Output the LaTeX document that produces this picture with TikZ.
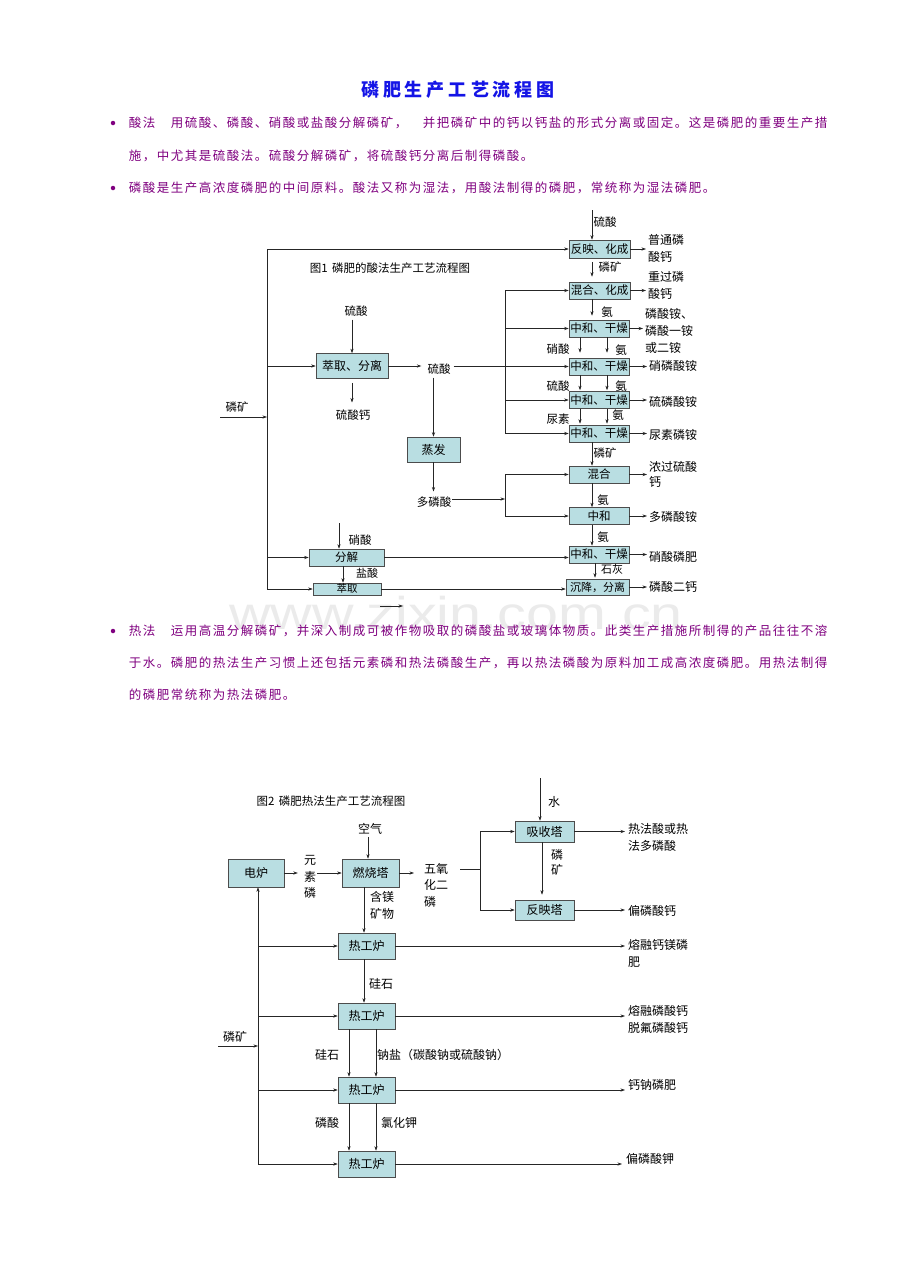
\documentclass[tikz,border=0pt]{standalone}
\usepackage{fontspec}
\usepackage{graphicx}
\setmainfont{Noto Sans CJK SC}
\newfontfamily\wmfont{Liberation Sans}
\usetikzlibrary{arrows.meta,calc}
\definecolor{boxc}{RGB}{185,222,226}
\definecolor{txtp}{RGB}{128,0,128}
\definecolor{ttlb}{RGB}{20,20,230}
\newlength\chw
\def\spcend{SPCEND}
\def\spcloop#1{\ifx#1\spcend\else\makebox[\chw][c]{#1}\expandafter\spcloop\fi}
\newcommand\spaced[2]{\setlength\chw{#1}\spcloop#2\spcend}
\begin{document}
\begin{tikzpicture}[x=1pt,y=-1pt,
  pbox/.style={draw=black!70, fill=boxc, line width=0.6pt, inner sep=0pt, font=\fontsize{11.5}{13}\selectfont},
  pboxb/.style={pbox, font=\fontsize{12}{14}\selectfont},
  lab/.style={inner sep=0pt, font=\fontsize{11.5}{16}\selectfont, align=left},
  lab2/.style={inner sep=0pt, font=\fontsize{12}{17}\selectfont, align=left},
  ln/.style={line width=0.6pt, draw=black!85},
  arr/.style={ln, -{Stealth[length=4.5pt,width=3.2pt]}},
  body/.style={inner sep=0pt, anchor=west, text=txtp, font=\fontsize{12.5}{14}\selectfont},
  bullet/.style={circle, fill=txtp, inner sep=0pt, minimum size=4.5pt}]
\path[fill=white, use as bounding box] (0,0) rectangle (920,1272);
% watermark
\node[text=black!8, font=\wmfont\fontsize{46}{50}\selectfont, inner sep=0pt, anchor=base] (wm) at (456,629) {\scalebox{1.25}[1]{www.zixin.com.cn}};
% title and text
\node[inner sep=0pt, text=ttlb, font=\fontsize{18}{20}\selectfont\bfseries] (title) at (458,90) {\spaced{22pt}{磷肥生产工艺流程图}};
\node[bullet] (b1) at (113,123) {};
\node[body] (p1) at (128,123) {\spaced{14pt}{酸法　用硫酸、磷酸、硝酸或盐酸分解磷矿，　并把磷矿中的钙以钙盐的形式分离或固定。这是磷肥的重要生产措}};
\node[body] (p2) at (128,156) {\spaced{14pt}{施，中尤其是硫酸法。硫酸分解磷矿，将硫酸钙分离后制得磷酸。}};
\node[bullet] (b2) at (113,188) {};
\node[body] (p3) at (128,188) {\spaced{14pt}{磷酸是生产高浓度磷肥的中间原料。酸法又称为湿法，用酸法制得的磷肥，常统称为湿法磷肥。}};
\node[bullet] (b3) at (113,631) {};
\node[body] (p4) at (128,631) {\spaced{14pt}{热法　运用高温分解磷矿，并深入制成可被作物吸取的磷酸盐或玻璃体物质。此类生产措施所制得的产品往往不溶}};
\node[body] (p5) at (128,663) {\spaced{14pt}{于水。磷肥的热法生产习惯上还包括元素磷和热法磷酸生产，再以热法磷酸为原料加工成高浓度磷肥。用热法制得}};
\node[body] (p6) at (128,695) {\spaced{14pt}{的磷肥常统称为热法磷肥。}};

% ===== Figure 1 =====
\node[lab] (f1t) at (390,268) {图1\hspace{0.4em}磷肥的酸法生产工艺流程图};
\node[pboxb, minimum width=72pt, minimum height=25pt] (ex) at (352,366) {萃取、分离};
\node[pboxb, minimum width=53pt, minimum height=25pt] (ev) at (433.5,449.5) {蒸发};
\node[pbox, minimum width=61pt, minimum height=18pt] (r1) at (599.5,249) {反映、化成};
\node[pbox, minimum width=61pt, minimum height=17pt] (r2) at (599.5,290.5) {混合、化成};
\node[pbox, minimum width=60pt, minimum height=17pt] (r3) at (599,328.5) {中和、干燥};
\node[pbox, minimum width=60pt, minimum height=17pt] (r4) at (599,366.5) {中和、干燥};
\node[pbox, minimum width=60pt, minimum height=17pt] (r5) at (599,400) {中和、干燥};
\node[pbox, minimum width=60pt, minimum height=17pt] (r6) at (599,433.5) {中和、干燥};
\node[pbox, minimum width=60pt, minimum height=17pt] (r7) at (599,474.5) {混合};
\node[pbox, minimum width=60pt, minimum height=17pt] (r8) at (599,516) {中和};
\node[pbox, minimum width=60pt, minimum height=17pt] (r9) at (599,554.5) {中和、干燥};
\node[pbox, minimum width=63pt, minimum height=16pt, font=\fontsize{11}{12}\selectfont] (r10) at (597.5,587) {沉降，分离};
\node[pbox, minimum width=75pt, minimum height=17pt] (fj) at (346.5,557.5) {分解};
\node[pbox, minimum width=68pt, minimum height=12pt, font=\fontsize{10.5}{11}\selectfont] (cq) at (347,589) {萃取};

\node[lab] (lk1) at (237,407) {磷矿};
\node[lab] (s1) at (356,311) {硫酸};
\node[lab] (cac) at (353,415) {硫酸钙};
\node[lab] (s2) at (439,369) {硫酸};
\node[lab] (dp) at (434,502) {多磷酸};
\node[lab] (a0) at (605,222) {硫酸};
\node[lab] (a1) at (610,267) {磷矿};
\node[lab] (a2) at (607,312) {氨};
\node[lab] (a3l) at (558,349) {硝酸};
\node[lab] (a3r) at (621,350) {氨};
\node[lab] (a4l) at (558,386) {硫酸};
\node[lab] (a4r) at (621,386) {氨};
\node[lab] (a5l) at (558,419) {尿素};
\node[lab] (a5r) at (618,415) {氨};
\node[lab] (a6) at (605,453) {磷矿};
\node[lab] (a7) at (603,500) {氨};
\node[lab] (a8) at (603,537) {氨};
\node[lab, font=\fontsize{11}{12}\selectfont] (a9) at (612,569) {石灰};
\node[lab] (hx) at (360,540) {硝酸};
\node[lab, font=\fontsize{11}{12}\selectfont] (ys) at (367,573.5) {盐酸};

\node[lab2, anchor=west] (o1) at (648,248) {普通磷\\酸钙};
\node[lab2, anchor=west] (o2) at (648,285.5) {重过磷\\酸钙};
\node[lab2, anchor=west] (o3) at (645,331) {磷酸铵、\\磷酸一铵\\或二铵};
\node[lab2, anchor=west] (o4) at (649,366) {硝磷酸铵};
\node[lab2, anchor=west] (o5) at (649,402) {硫磷酸铵};
\node[lab2, anchor=west] (o6) at (649,435) {尿素磷铵};
\node[lab2, anchor=west, font=\fontsize{12}{15}\selectfont] (o7) at (649,474) {浓过硫酸\\钙};
\node[lab2, anchor=west] (o8) at (649,516.5) {多磷酸铵};
\node[lab2, anchor=west] (o9) at (649,556.5) {硝酸磷肥};
\node[lab2, anchor=west] (o10) at (649,587) {磷酸二钙};

\coordinate (J1t) at (267,249);
\coordinate (J1b) at (267,589);
\coordinate (in1) at (220,417);
\coordinate (cx) at (592,0);
\coordinate (cx3) at (595,0);
\coordinate (cL) at (580,0);
\coordinate (cR) at (607,0);
\coordinate (t0) at (592,210);
\coordinate (bus) at (505,290.5);
\coordinate (busb) at (505,433.5);
\coordinate (J2) at (505,499);
\coordinate (J2t) at (505,474.5);
\coordinate (J2b) at (505,516);
\coordinate (hxt) at (339,523);
\coordinate (cfj) at (343,0);
\coordinate (st1) at (380,606);
\coordinate (st2) at (403,606);

\draw[ln] (J1t) -- (J1b);
\draw[arr] (J1t) -- (J1t -| r1.west);
\draw[arr] (in1) -- (in1 -| J1t);
\draw[arr] (ex -| J1t) -- (ex.west);
\draw[arr] (fj -| J1t) -- (fj.west);
\draw[arr] (J1b) -- (cq.west);
\draw[arr, shorten <=3pt] (s1.south -| ex.north) -- (ex.north);
\draw[arr, shorten <=4pt, shorten >=7pt] (ex.south) -- (ex.south |- cac.north);
\draw[arr, shorten >=6pt] (ex.east) -- (ex.east -| s2.west);
\draw[arr] ([xshift=3pt]s2.east |- r4.west) -- (r4.west);
\draw[arr, shorten <=3pt] (s2.south -| ev.north) -- (ev.north);
\draw[arr, shorten >=5pt] (ev.south) -- (ev.south |- dp.north);
\draw[arr] ([xshift=1pt]dp.east |- J2) -- (J2);
\draw[ln] (J2t) -- (J2b);
\draw[arr] (J2t) -- (r7.west);
\draw[arr] (J2b) -- (r8.west);
\draw[ln] (bus) -- (busb);
\draw[arr] (bus) -- (r2.west);
\draw[arr] (r3 -| bus) -- (r3.west);
\draw[arr] (r5 -| bus) -- (r5.west);
\draw[arr] (busb) -- (r6.west);

\draw[arr] (t0) -- (t0 |- r1.north);
\draw[arr, shorten <=4pt, shorten >=5pt] (r1.south -| cx) -- (r2.north -| cx);
\draw[arr, shorten >=4pt] (r2.south -| cx) -- (r3.north -| cx);
\draw[arr, shorten >=5pt] (r3.south -| cL) -- (r4.north -| cL);
\draw[arr, shorten >=5pt] (r3.south -| cR) -- (r4.north -| cR);
\draw[arr, shorten >=1pt] (r4.south -| cL) -- (r5.north -| cL);
\draw[arr, shorten >=1pt] (r4.south -| cR) -- (r5.north -| cR);
\draw[arr, shorten >=1pt] (r5.south -| cL) -- (r6.north -| cL);
\draw[arr, shorten >=1pt] (r5.south -| cR) -- (r6.north -| cR);
\draw[arr] (r6.south -| cx) -- (r7.north -| cx);
\draw[arr] (r7.south -| cx) -- (r8.north -| cx);
\draw[arr] (r8.south -| cx) -- (r9.north -| cx);
\draw[arr, shorten >=1pt] (r9.south -| cx3) -- (r10.north -| cx3);
\foreach \i in {1,...,10} \draw[arr, shorten >=2pt] (r\i.east) -- (r\i.east -| o\i.west);

\draw[arr] (hxt) -- (hxt |- fj.north);
\draw[arr] (fj.south -| cfj) -- (cq.north -| cfj);
\draw[arr] (fj.east) -- (fj.east -| r9.west);
\draw[arr] (cq.east) -- (cq.east -| r10.west);
\draw[arr] (st1) -- (st2);

% ===== Figure 2 =====
\node[lab] (f2t) at (331,801) {图2\hspace{0.4em}磷肥热法生产工艺流程图};
\node[pboxb, minimum width=56pt, minimum height=28pt] (df) at (256,873) {电炉};
\node[pboxb, minimum width=57pt, minimum height=28pt] (rs) at (370.5,873) {燃烧塔};
\node[pboxb, minimum width=59pt, minimum height=21pt] (xs) at (544.5,831.5) {吸收塔};
\node[pboxb, minimum width=59pt, minimum height=20pt] (fy) at (544.5,910) {反映塔};
\node[pboxb, minimum width=57pt, minimum height=26pt] (h1) at (366.5,946) {热工炉};
\node[pboxb, minimum width=57pt, minimum height=26pt] (h2) at (366.5,1016) {热工炉};
\node[pboxb, minimum width=57pt, minimum height=26pt] (h3) at (366.5,1090) {热工炉};
\node[pboxb, minimum width=57pt, minimum height=26pt] (h4) at (366.5,1164) {热工炉};

\node[lab2] (w) at (554,802) {水};
\node[lab2] (kq) at (370,829) {空气};
\node[lab2, align=center, font=\fontsize{12}{16.5}\selectfont] (ysl) at (310,877) {元\\素\\磷};
\node[lab2, anchor=west, font=\fontsize{12}{16.5}\selectfont] (wy) at (424,885) {五氧\\化二\\磷};
\node[lab2, align=center, font=\fontsize{12}{15}\selectfont] (lk3) at (557,862.5) {磷\\矿};
\node[lab2] (hm) at (382,905.5) {含镁\\矿物};
\node[lab2, anchor=west] (q1) at (628,837.5) {热法酸或热\\法多磷酸};
\node[lab2, anchor=west] (q2) at (628,911) {偏磷酸钙};
\node[lab2, anchor=west] (q3) at (628,953.5) {熔融钙镁磷\\肥};
\node[lab2] (gs1) at (381,984) {硅石};
\node[lab2, anchor=west] (q4) at (628,1019.5) {熔融磷酸钙\\脱氟磷酸钙};
\node[lab2] (lk4) at (235,1037) {磷矿};
\node[lab2] (gs2) at (327,1055) {硅石};
\node[lab2, anchor=west] (ny) at (377,1055) {钠盐（碳酸钠或硫酸钠）};
\node[lab2, anchor=west] (q5) at (628,1085) {钙钠磷肥};
\node[lab2] (ls) at (327,1123) {磷酸};
\node[lab2] (lhj) at (399,1123) {氯化钾};
\node[lab2, anchor=west] (q6) at (626,1159) {偏磷酸钾};

\coordinate (wt) at (540,778);
\coordinate (kqx) at (368,0);
\coordinate (bx) at (258,0);
\coordinate (in2) at (218,1046);
\coordinate (J4) at (480,869);
\coordinate (J4a) at (460,869);
\coordinate (xsx) at (542,0);
\coordinate (hx1) at (364,0);
\coordinate (hL) at (349,0);
\coordinate (hR) at (376,0);

\draw[arr, shorten >=6pt] (df.east) -- (df.east -| ysl.west);
\draw[arr, shorten <=1pt] (ysl.east |- rs.west) -- (rs.west);
\draw[arr, shorten >=10pt] (rs.east) -- (rs.east -| wy.west);
\draw[ln] (J4a) -- (J4);
\draw[ln] (J4 |- xs) -- (J4 |- fy);
\draw[arr] (J4 |- xs) -- (xs.west);
\draw[arr] (J4 |- fy) -- (fy.west);
\draw[arr] (wt) -- (wt |- xs.north);
\draw[arr, shorten <=2pt] (kq.south -| kqx) -- (rs.north -| kqx);
\draw[arr, shorten >=5pt] (xs.south -| xsx) -- (fy.north -| xsx);
\draw[arr, shorten >=3pt] (xs.east) -- (xs.east -| q1.west);
\draw[arr, shorten >=3pt] (fy.east) -- (fy.east -| q2.west);
\draw[arr, shorten >=3pt] (h1.east) -- (h1.east -| q3.west);
\draw[arr, shorten >=3pt] (h2.east) -- (h2.east -| q4.west);
\draw[arr, shorten >=3pt] (h3.east) -- (h3.east -| q5.west);
\draw[arr, shorten >=4pt] (h4.east) -- (h4.east -| q6.west);
\draw[arr] (rs.south -| hx1) -- (h1.north -| hx1);
\draw[arr] (h1.south -| hx1) -- (h2.north -| hx1);
\draw[arr] (h2.south -| hL) -- (h3.north -| hL);
\draw[arr] (h2.south -| hR) -- (h3.north -| hR);
\draw[arr] (h3.south -| hL) -- (h4.north -| hL);
\draw[arr] (h3.south -| hR) -- (h4.north -| hR);
\draw[arr] (h4 -| bx) -- (df.south -| bx);
\draw[arr] (in2) -- (in2 -| bx);
\foreach \h in {h1,h2,h3,h4} \draw[arr] (\h -| bx) -- (\h.west);
\end{tikzpicture}
\end{document}
